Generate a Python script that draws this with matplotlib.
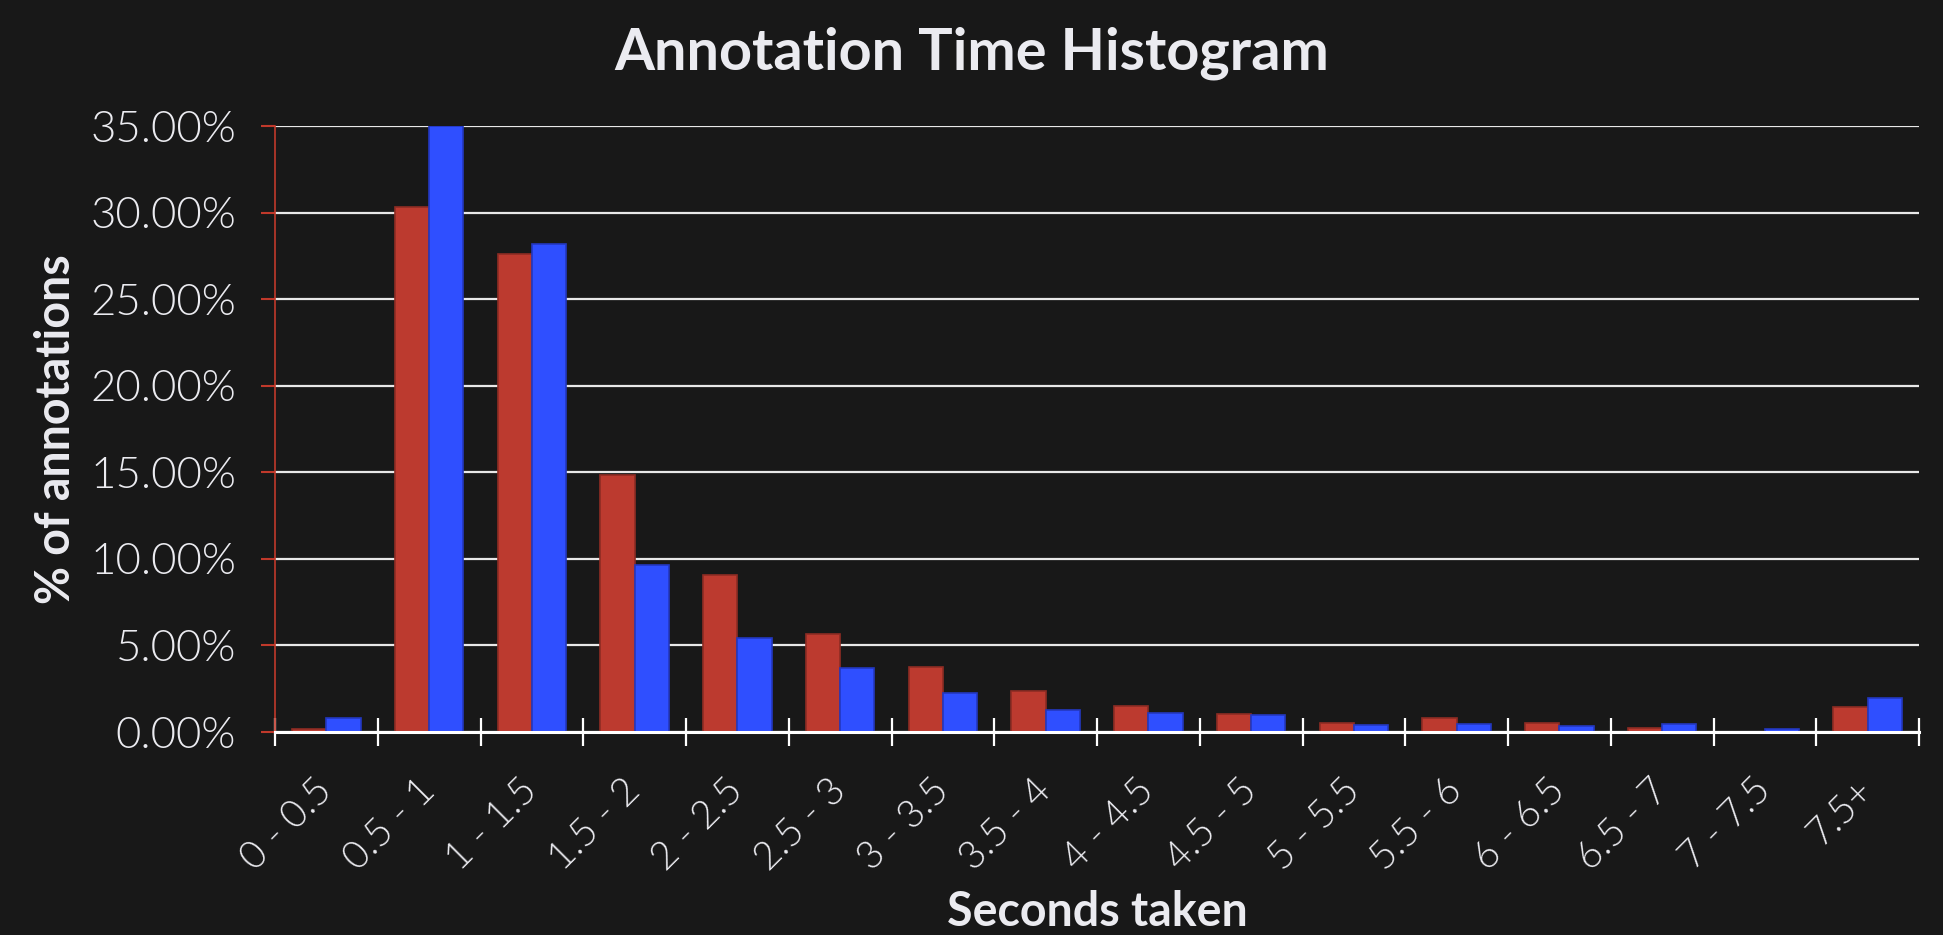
import matplotlib
matplotlib.use("Agg")
import matplotlib.pyplot as plt
import numpy as np
from matplotlib.ticker import FuncFormatter, FixedLocator

categories = ["0 - 0.5", "0.5 - 1", "1 - 1.5", "1.5 - 2", "2 - 2.5", "2.5 - 3",
              "3 - 3.5", "3.5 - 4", "4 - 4.5", "4.5 - 5", "5 - 5.5", "5.5 - 6",
              "6 - 6.5", "6.5 - 7", "7 - 7.5", "7.5+"]
red_values = [0.19, 30.33, 27.60, 14.84, 9.06, 5.66, 3.77, 2.36, 1.51, 1.03,
              0.54, 0.78, 0.50, 0.23, 0.00, 1.47]
blue_values = [0.79, 35.00, 28.19, 9.64, 5.45, 3.68, 2.25, 1.26, 1.10, 0.97,
               0.43, 0.45, 0.33, 0.45, 0.17, 1.96]
y_ticks = [0, 5, 10, 15, 20, 25, 30, 35]

BG = "#181818"
TXT = "#EBEBF0"
RED = "#BC3A2F"
RED_EDGE = "#8E2C24"
BLUE = "#2F4FFF"
BLUE_EDGE = "#2338C0"
AXRED = "#C0392B"

fig = plt.figure(figsize=(19.43, 9.35), dpi=100, facecolor=BG)
ax = fig.add_axes([275/1943, 1-732/935, (1919-275)/1943, (732-126)/935])
ax.set_facecolor(BG)

n = len(categories)
centers = np.arange(n) + 0.5
w = 1/3
ax.bar(centers - w/2, red_values, width=w, color=RED, edgecolor=RED_EDGE,
       linewidth=1.2, zorder=3)
ax.bar(centers + w/2, blue_values, width=w, color=BLUE, edgecolor=BLUE_EDGE,
       linewidth=1.2, zorder=3)

ax.set_xlim(0, n)
ax.set_ylim(0, 35)

ax.yaxis.set_major_locator(FixedLocator(y_ticks))
ax.yaxis.set_major_formatter(FuncFormatter(lambda v, p: f"{v:.2f}%"))
ax.grid(axis="y", color="#E8E8E8", linewidth=1.6, zorder=1)
ax.set_axisbelow(True)

ax.set_xticks(centers)
ax.set_xticklabels(categories)
ax.set_xticks(np.arange(n + 1), minor=True)
ax.tick_params(axis="x", which="major", length=0, pad=38)
ax.tick_params(axis="x", which="minor", direction="inout", length=20,
               width=1.6, color="white")
ax.tick_params(axis="y", which="major", direction="out", length=10,
               width=1.5, color=AXRED, pad=18)

for lab in ax.get_xticklabels():
    lab.set_rotation(45)
    lab.set_ha("right")
    lab.set_va("center")
    lab.set_rotation_mode("anchor")
    lab.set_fontfamily("Lato")
    lab.set_fontweight(300)
    lab.set_fontsize(28)
    lab.set_color(TXT)
for lab in ax.get_yticklabels():
    lab.set_fontfamily("Lato")
    lab.set_fontweight(300)
    lab.set_fontsize(31.5)
    lab.set_color(TXT)

for s in ["top", "right"]:
    ax.spines[s].set_visible(False)
ax.spines["left"].set_color(AXRED)
ax.spines["left"].set_linewidth(1.2)
ax.spines["bottom"].set_color("white")
ax.spines["bottom"].set_linewidth(2.2)
ax.spines["bottom"].set_zorder(4)

fig.text(971.5/1943, 1-70/935, "Annotation Time Histogram", ha="center",
         va="baseline", fontsize=41.5, fontweight="bold", family="Lato", color=TXT)
fig.text(56/1943, 1-429/935, "% of annotations", ha="center", va="center",
         rotation=90, fontsize=33.5, fontweight="bold", family="Lato", color=TXT)
fig.text(1097/1943, 1-912/935, "Seconds taken", ha="center", va="center",
         fontsize=33.5, fontweight="bold", family="Lato", color=TXT)

fig.savefig("out.png", dpi=100, facecolor=BG)
